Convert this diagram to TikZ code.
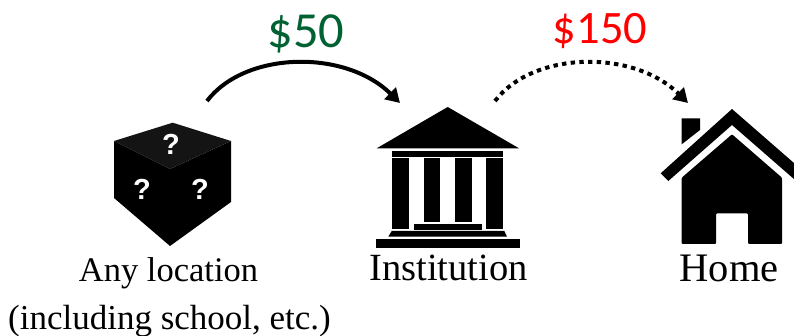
\documentclass[tikz,border=0pt]{standalone}
\usepackage{fontspec}
\setmainfont{Liberation Serif}
\newfontfamily\calibrilike{Carlito}
\newfontfamily\qfont{Liberation Sans}
\usetikzlibrary{arrows.meta}
\definecolor{moneygreen}{RGB}{0,97,50}
\definecolor{moneyred}{RGB}{255,0,0}
\definecolor{cubetop}{RGB}{20,20,20}
\tikzset{
  icon/.style={fill=black,draw=none},
  flow/.style={line width=4pt,-{Triangle[length=14pt,width=16pt]}},
  dotflow/.style={flow,dash pattern=on 4.4pt off 4.3pt},
  money/.style={font=\calibrilike\fontsize{50.5}{54}\selectfont,inner sep=0pt},
  lab/.style={inner sep=0pt,anchor=base,text=black},
  qmark/.style={text=white,inner sep=0pt,font=\qfont\bfseries\fontsize{29}{31}\selectfont}
}
\begin{document}
\begin{tikzpicture}[x=1pt,y=-1pt]
\useasboundingbox (0,0) rectangle (794,336);
\clip (0,0) rectangle (794,336);
% cube
\fill[icon] (114,141) -- (170,169) -- (170,246) -- (114,198) -- cycle;
\fill[icon] (231,141) -- (170,169) -- (170,246) -- (231,202) -- cycle;
\fill[cubetop] (114,141) -- (172.7,122.7) -- (231,141) -- (170,169) -- cycle;
\node[qmark] (q1) at (171,144) {?};
\node[qmark] (q2) at (142,189) {?};
\node[qmark] (q3) at (200,189) {?};
% institution
\fill[icon] (447.7,107) -- (519,148.3) -- (376.7,148.3) -- cycle;
\fill[icon] (391.7,151) rectangle (503.3,156.7);
\fill[icon] (392.3,158.3) rectangle (409,229);
\fill[icon] (423.7,158.3) rectangle (440.3,221.7);
\fill[icon] (455,158.3) rectangle (471.7,221.7);
\fill[icon] (486.3,158.3) rectangle (503,229);
\fill[icon] (413.7,224.3) rectangle (481.7,229.7);
\fill[icon] (391.7,231) -- (504.3,231) -- (507,236.7) -- (388.3,236.7) -- cycle;
\fill[icon] (375.7,239) rectangle (520,248.3);
% house
\fill[icon] (681.7,118.3) -- (700,118.3) -- (700,130) -- (681.7,144.3) -- cycle;
\fill[icon] (732,109) -- (810,177) -- (810,193) -- (732,125) -- (668.3,181) -- (660.7,173.3) -- cycle;
\fill[icon,rounded corners=1pt] (732,134.3) -- (782,177.7) -- (782,244) -- (748,244) -- (748,213.3) -- (716,213.3) -- (716,244) -- (681.7,244) -- (681.7,177.7) -- cycle;
% connectors
\coordinate (a1) at (207,101);
\coordinate (b1) at (400,103);
\coordinate (a2) at (495,101);
\coordinate (b2) at (688,103);
\draw[flow] (a1) .. controls (245,51) and (345,49) .. (b1);
\draw[dotflow] (a2) .. controls (533,51) and (633,49) .. (b2);
% labels
\node[money,text=moneygreen] (p1) at (306,34) {\$50};
\node[money,text=moneyred,font=\calibrilike\fontsize{46.5}{50}\selectfont] (p2) at (600,31) {\$150};
\node[lab,font=\fontsize{34.5}{38}\selectfont] (l1) at (168.5,282) {Any location};
\node[lab,font=\fontsize{35}{38}\selectfont] (l2) at (169.5,329) {(including school, etc.)};
\node[lab,font=\fontsize{38.5}{42}\selectfont] (l3) at (448.5,280) {Institution};
\node[lab,font=\fontsize{40.5}{44}\selectfont] (l4) at (729,281) {Home};
\end{tikzpicture}
\end{document}
